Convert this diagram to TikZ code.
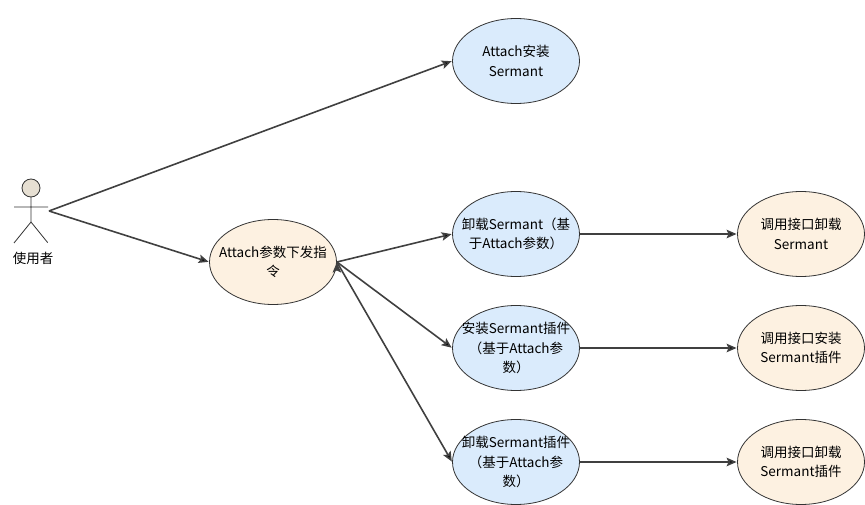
\documentclass[tikz,border=0pt]{standalone}
\usepackage{fontspec}
\setmainfont{Noto Sans CJK SC}
\usetikzlibrary{arrows.meta,shapes.geometric}
\definecolor{useblue}{HTML}{DAEBFC}
\definecolor{usetan}{HTML}{FDF1E1}
\definecolor{headfill}{HTML}{E6DFD2}
\definecolor{linegray}{HTML}{404040}

\begin{document}
\begin{tikzpicture}[x=1pt,y=-1pt,>={Stealth[length=10pt,width=8.5pt,inset=2pt]},shorten >=0.5pt,node distance=114pt,
        main node/.style={ellipse,draw=black!80,line width=0.8pt,minimum width=127pt,minimum height=85pt,
          inner xsep=-25pt,inner ysep=-20pt,align=center,font=\fontsize{13.5}{19.5}\selectfont},
        blue node/.style={main node,fill=useblue},
        tan node/.style={main node,fill=usetan}]
        \useasboundingbox (0,0) rectangle (865,505);
        % actor
        \draw[line width=0.8pt,black!80,fill=headfill] (31,188) circle (9);
        \draw[line width=0.8pt,black!80] (31,197) -- (31,222) (14,207) -- (48,207)
          (14,243) -- (31,222) -- (48,243);
        \node[font=\fontsize{13.5}{16}\selectfont] (a) at (33,258) {使用者};
        \coordinate (0) at (49,211);
        % use cases
        \node[blue node] (1) at (516,61) {Attach安装\\Sermant};
        \node[tan node] (2) at (273,262) {Attach参数下发指\\令};
        \node[blue node] (3) at (516,234) {卸载Sermant（基\\于Attach参数）};
        \node[blue node] (4) [below of=3] {安装Sermant插件\\（基于Attach参\\数）};
        \node[blue node] (5) [below of=4] {卸载Sermant插件\\（基于Attach参\\数）};
        \node[tan node] (6) [right of=3,node distance=285pt] {调用接口卸载\\Sermant};
        \node[tan node] (7) [right of=4,node distance=285pt] {调用接口安装\\Sermant插件};
        \node[tan node] (8) [right of=5,node distance=285pt] {调用接口卸载\\Sermant插件};
        \path[->,line width=1.6pt,draw=linegray]
        (0) edge (1.west)
        (0) edge (2.west)
        (2.east) edge (3.west)
        (2.east) edge (4.west)
        (2.east) edge (5.west)
        (3) edge (6)
        (4) edge (7)
        (5) edge (8)
        ;
\end{tikzpicture}
\end{document}
